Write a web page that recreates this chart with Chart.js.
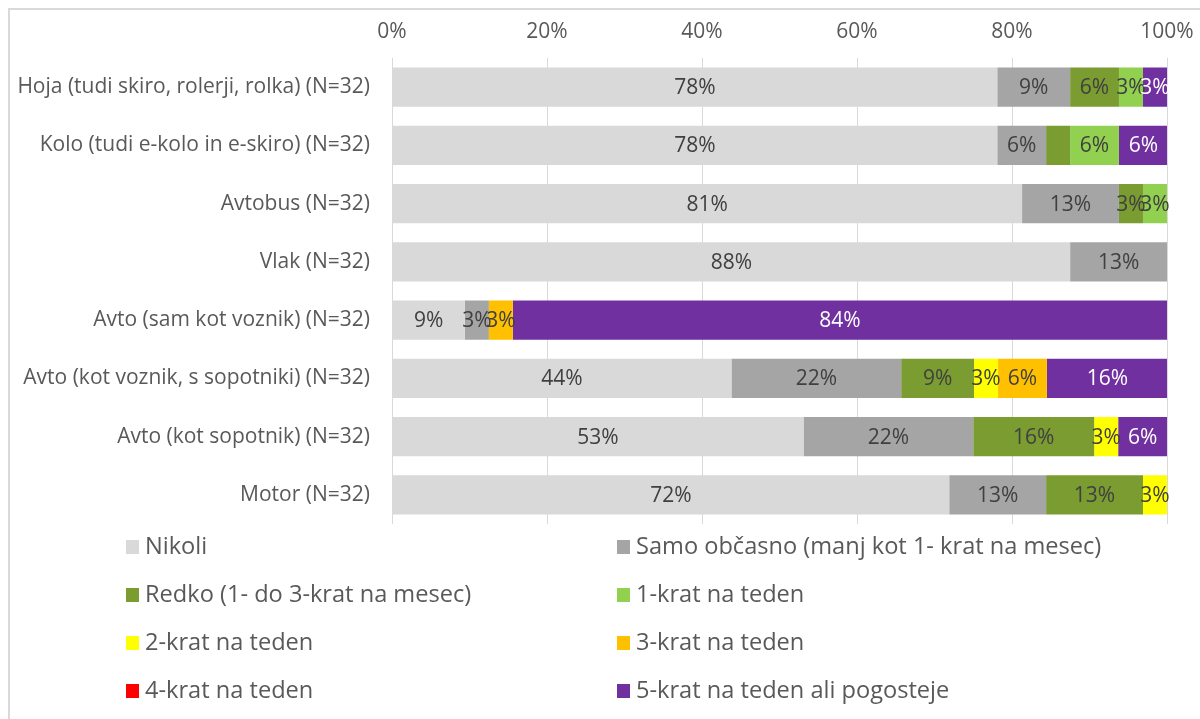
<!DOCTYPE html>
<html>
<head>
<meta charset="utf-8">
<script src="https://cdn.jsdelivr.net/npm/chart.js@4.4.1/dist/chart.umd.min.js"></script>
<style>
  html, body { margin: 0; padding: 0; background: #fff; }
  #wrap { position: relative; width: 1200px; height: 719px; overflow: hidden; font-family: "Open Sans", sans-serif; }
  #frame { position: absolute; left: 8px; top: 8px; width: 1300px; height: 800px; border-top: 2px solid #d9d9d9; border-left: 2px solid #d9d9d9; }
  #myChart { position: absolute; left: 0; top: 0; }
  .leg { position: absolute; font-size: 23.6px; color: #595959; white-space: nowrap; line-height: 28px; }
  .leg span { display: inline-block; width: 13px; height: 14px; margin-right: 6px; vertical-align: 0px; }
</style>
</head>
<body>
<div id="wrap">
  <div id="frame"></div>
  <canvas id="myChart" width="1200" height="719"></canvas>
  <div id="legend"></div>
</div>
<script>
const categories = [
  'Hoja (tudi skiro, rolerji, rolka) (N=32)',
  'Kolo (tudi e-kolo in e-skiro) (N=32)',
  'Avtobus (N=32)',
  'Vlak (N=32)',
  'Avto (sam kot voznik) (N=32)',
  'Avto (kot voznik, s sopotniki) (N=32)',
  'Avto (kot sopotnik) (N=32)',
  'Motor (N=32)'
];

const seriesNames = [
  'Nikoli',
  'Samo občasno (manj kot 1- krat na mesec)',
  'Redko (1- do 3-krat na mesec)',
  '1-krat na teden',
  '2-krat na teden',
  '3-krat na teden',
  '4-krat na teden',
  '5-krat na teden ali pogosteje'
];
const colors = ['#d9d9d9', '#a5a5a5', '#7a9c30', '#92d050', '#ffff00', '#ffc000', '#ff0000', '#7030a0'];

// percent of respondents
const nikoli = [78.1, 78.1, 81.3, 87.5, 9.4, 43.8, 53.1, 71.9];
const obcasno = [9.4, 6.3, 12.5, 12.5, 3.1, 21.9, 21.9, 12.5];
const redko = [6.3, 3.1, 3.1, 0, 0, 9.4, 15.6, 12.5];
const krat1 = [3.1, 6.3, 3.1, 0, 0, 0, 0, 0];
const krat2 = [0, 0, 0, 0, 0, 3.1, 3.1, 3.1];
const krat3 = [0, 0, 0, 0, 3.1, 6.3, 0, 0];
const krat4 = [0, 0, 0, 0, 0, 0, 0, 0];
const krat5 = [3.1, 6.3, 0, 0, 84.4, 15.6, 6.3, 0];

const tickLabels = ['0%', '20%', '40%', '60%', '80%', '100%'];
// segment without a value label in the original (row, series)
const noLabel = [[1, 2]];

const values = [nikoli, obcasno, redko, krat1, krat2, krat3, krat4, krat5];
const FONT = '"Open Sans", sans-serif';

const labelPlugin = {
  id: 'barLabels',
  afterDatasetsDraw(chart) {
    const ctx = chart.ctx;
    ctx.save();
    ctx.font = '21px ' + FONT;
    ctx.textAlign = 'center';
    ctx.textBaseline = 'middle';
    chart.data.datasets.forEach((ds, di) => {
      chart.getDatasetMeta(di).data.forEach((bar, i) => {
        const v = ds.data[i];
        if (!v) return;
        if (noLabel.some(p => p[0] === i && p[1] === di)) return;
        const pt = bar.getCenterPoint();
        ctx.fillStyle = di === 7 ? '#ffffff' : '#404040';
        ctx.fillText(Math.round(v) + '%', pt.x, pt.y + 1);
      });
    });
    ctx.restore();
  }
};

new Chart(document.getElementById('myChart'), {
  type: 'bar',
  data: {
    labels: categories,
    datasets: values.map((d, i) => ({
      label: seriesNames[i],
      data: d,
      backgroundColor: colors[i],
      borderWidth: 0,
      barPercentage: 0.67,
      categoryPercentage: 1
    }))
  },
  options: {
    indexAxis: 'y',
    responsive: false,
    animation: false,
    layout: { padding: { left: 0, right: 33, top: 0, bottom: 195 } },
    plugins: { legend: { display: false }, tooltip: { enabled: false } },
    scales: {
      x: {
        position: 'top',
        stacked: true,
        min: 0,
        max: 100,
        afterFit: s => { s.height = 58; s.paddingRight = 0; },
        afterBuildTicks: s => { s.ticks = tickLabels.map((t, i) => ({ value: i * 20 })); },
        ticks: {
          callback: (v, i) => tickLabels[i],
          color: '#595959',
          font: { family: FONT, size: 21 },
          padding: 13,
          maxRotation: 0
        },
        grid: { color: '#d9d9d9', lineWidth: 1, drawTicks: false },
        border: { display: false }
      },
      y: {
        stacked: true,
        afterFit: s => { s.width = 392; },
        ticks: {
          color: '#595959',
          font: { family: FONT, size: 21 },
          padding: 22
        },
        grid: { display: false, drawTicks: false },
        border: { display: false }
      }
    }
  },
  plugins: [labelPlugin]
});

// legend in two columns like the original
const legend = document.getElementById('legend');
seriesNames.forEach((name, i) => {
  const el = document.createElement('div');
  el.className = 'leg';
  el.style.left = (i % 2 === 0 ? 126 : 617) + 'px';
  el.style.top = (531 + Math.floor(i / 2) * 48) + 'px';
  el.innerHTML = '<span style="background:' + colors[i] + '"></span>' + name;
  legend.appendChild(el);
});
</script>
</body>
</html>
